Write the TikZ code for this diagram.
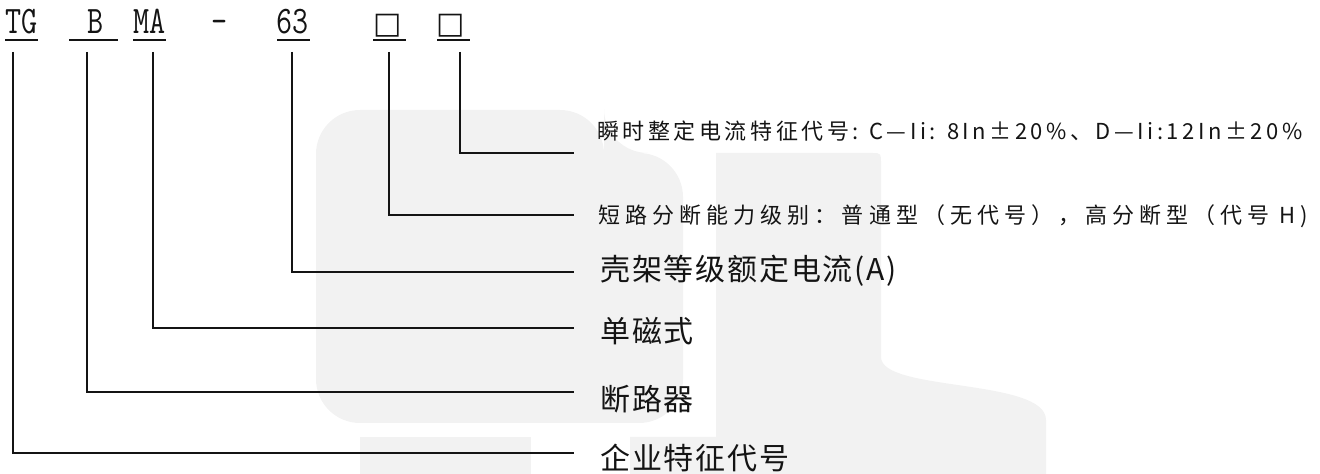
\documentclass[tikz,border=0pt]{standalone}
\usepackage{fontspec}
\usepackage{xcolor}
\setmainfont{Noto Sans CJK SC}
\newfontfamily\cjksmall[LetterSpace=16]{Noto Sans CJK SC}
\newfontfamily\cjkwide[LetterSpace=23]{Noto Sans CJK SC}
\newfontfamily\cjkbig[LetterSpace=6]{Noto Sans CJK SC}
\newfontfamily\codefont[FakeStretch=0.8]{Latin Modern Mono}
\newfontfamily\boxfont{DejaVu Sans}
\definecolor{wmgray}{RGB}{242,242,242}
\definecolor{inkblack}{RGB}{20,20,20}
\tikzset{
  leader/.style={inkblack, line width=1pt},
  codetxt/.style={inkblack, anchor=base, inner sep=0pt, font=\codefont\fontsize{19.5pt}{20pt}\selectfont},
  boxtxt/.style={inkblack, anchor=base, inner sep=0pt, font=\boxfont\fontsize{15pt}{15pt}\selectfont},
  smalllab/.style={inkblack, anchor=west, inner sep=0pt, font=\cjksmall\fontsize{11pt}{13pt}\selectfont},
  biglab/.style={inkblack, anchor=west, inner sep=0pt, font=\cjkbig\fontsize{15pt}{17pt}\selectfont}
}

\begin{document}
\begin{tikzpicture}[x=0.5pt, y=-0.5pt]
  \useasboundingbox (0,0) rectangle (1320,474);

  % Watermark
  \fill[wmgray, rounded corners=22pt] (316,110) -- (604,110) -- (604,153) -- (683,153)
    -- (683,423) -- (316,423) -- cycle;
  \fill[wmgray] (716,153) -- (872,153) .. controls (881,153) .. (881,165) -- (881,357)
    .. controls (881,392) and (1046,378) .. (1046,420) -- (1046,474) -- (630,474)
    -- (630,437) -- (716,437) -- cycle;
  \fill[wmgray] (360,437) rectangle (531,474);

  % Model code
  \node[codetxt] (tg)   at (21.5,34) {TG};
  \node[codetxt] (b)    at (96,34)   {B};
  \node[codetxt] (ma)   at (149.5,34) {MA};
  \node[codetxt] (dash) at (220,34)  {-};
  \node[codetxt] (n63)  at (293,34)  {63};
  \node[boxtxt]  (b1)   at (388,34)  {□};
  \node[boxtxt]  (b2)   at (451,34)  {□};

  % Underlines
  \foreach \a/\b in {5/38, 69/118, 133/166, 277/310, 373/406, 437/470}
    \draw[leader] (\a,40) -- (\b,40);

  % Explanations
  \node[smalllab] (lab-b2)  at (597,131) {瞬时整定电流特征代号: C—Ii: 8In±20\%、D—Ii:12In±20\%};
  \node[smalllab, font=\cjkwide\fontsize{11pt}{13pt}\selectfont] (lab-b1) at (598,216) {短路分断能力级别：普通型（无代号），高分断型（代号 H)};
  \node[biglab]   (lab-n63) at (600,271) {壳架等级额定电流(A)};
  \node[biglab]   (lab-ma)  at (600,331) {单磁式};
  \node[biglab]   (lab-b)   at (600,399) {断路器};
  \node[biglab]   (lab-tg)  at (600,458) {企业特征代号};

  % Leader ends
  \coordinate (tg-top)  at (13,52);   \coordinate (tg-end)  at (574,453);
  \coordinate (b-top)   at (87,52);   \coordinate (b-end)   at (574,392);
  \coordinate (ma-top)  at (153,52);  \coordinate (ma-end)  at (574,328);
  \coordinate (n63-top) at (292,52);  \coordinate (n63-end) at (574,272);
  \coordinate (b1-top)  at (389,52);  \coordinate (b1-end)  at (574,215);
  \coordinate (b2-top)  at (460,52);  \coordinate (b2-end)  at (574,153);

  \foreach \c in {tg, b, ma, n63, b1, b2}
    \draw[leader] (\c-top) |- (\c-end);
\end{tikzpicture}
\end{document}
